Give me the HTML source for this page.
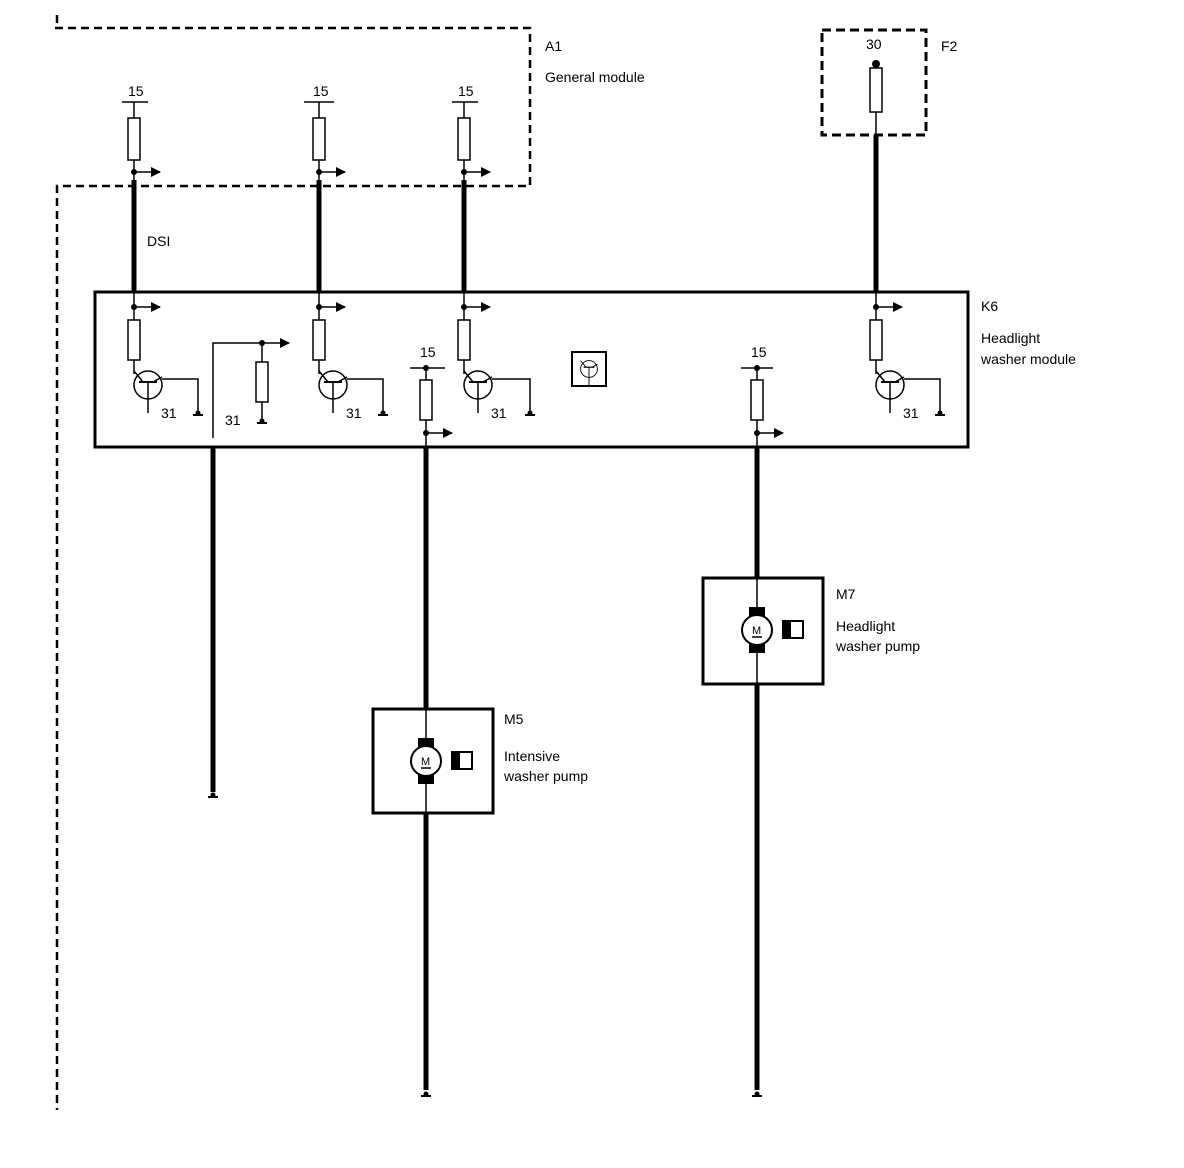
<!DOCTYPE html>
<html><head><style>body{margin:0;background:#fff}svg{display:block}text{font-family:"Liberation Sans",sans-serif;font-size:14px;fill:#000}</style></head><body>
<svg width="1184" height="1168" viewBox="0 0 1184 1168" xmlns="http://www.w3.org/2000/svg">
<defs>
<marker id="ah" markerWidth="10" markerHeight="10" refX="9" refY="5" orient="auto" markerUnits="userSpaceOnUse"><path d="M0,0 L10,5 L0,10z"/></marker>
<g id="tr"><circle cx="0" cy="0" r="14" fill="none" stroke="#000" stroke-width="1.5"/><line x1="-9" y1="-3" x2="9" y2="-3" stroke="#000" stroke-width="2"/><line x1="0" y1="-3" x2="0" y2="28" stroke="#000" stroke-width="1.5"/><line x1="-5" y1="-3" x2="-14" y2="-14" stroke="#000" stroke-width="1.5"/><line x1="5" y1="-3" x2="14" y2="-8" stroke="#000" stroke-width="1.5"/></g>
<g id="gnd"><line x1="-5" y1="0" x2="5" y2="0" stroke="#000" stroke-width="2"/><circle cx="0" cy="-2" r="2.5"/></g>
<g id="mot"><rect x="-8" y="-23" width="16" height="9"/><rect x="-8" y="14" width="16" height="9"/><circle r="15" fill="#fff" stroke="#000" stroke-width="2"/><text x="-5" y="4" style="font-size:11px">M</text><line x1="-5" y1="7" x2="5" y2="7" stroke="#000" stroke-width="1.5"/><rect x="26" y="-9" width="20" height="17" fill="#fff" stroke="#000" stroke-width="2"/><rect x="26" y="-9" width="8" height="17"/></g>
</defs>
<g stroke="#000" fill="none">
<path d="M55,28 H530 V186 H57 V1110 M57,15 V28" stroke-width="2.5" stroke-dasharray="8,5"/>
<rect x="822" y="30" width="104" height="105" stroke-width="3" stroke-dasharray="9,5"/>
<rect x="95" y="292" width="873" height="155" stroke-width="3"/>
<rect x="373" y="709" width="120" height="104" stroke-width="3"/>
<rect x="703" y="578" width="120" height="106" stroke-width="3"/>
<!-- thick wires -->
<g stroke-width="5"><line x1="134" y1="180" x2="134" y2="292"/><line x1="319" y1="180" x2="319" y2="292"/><line x1="464" y1="180" x2="464" y2="292"/><line x1="876" y1="135" x2="876" y2="292"/><line x1="213" y1="447" x2="213" y2="792"/><line x1="426" y1="447" x2="426" y2="709"/><line x1="426" y1="813" x2="426" y2="1090"/><line x1="757" y1="447" x2="757" y2="578"/><line x1="757" y1="684" x2="757" y2="1090"/></g>
<g stroke-width="1.5">
<line x1="426" y1="709" x2="426" y2="813"/><line x1="757" y1="578" x2="757" y2="684"/>
<line x1="876" y1="65" x2="876" y2="135"/>
<!-- A1 columns -->
<line x1="122" y1="102" x2="148" y2="102"/><line x1="134" y1="102" x2="134" y2="180"/>
<line x1="304" y1="102" x2="334" y2="102"/><line x1="319" y1="102" x2="319" y2="180"/>
<line x1="452" y1="102" x2="478" y2="102"/><line x1="464" y1="102" x2="464" y2="180"/>
<line x1="134" y1="172" x2="160" y2="172" marker-end="url(#ah)"/>
<line x1="319" y1="172" x2="345" y2="172" marker-end="url(#ah)"/>
<line x1="464" y1="172" x2="490" y2="172" marker-end="url(#ah)"/>
<!-- K6 inside -->
<line x1="134" y1="292" x2="134" y2="374"/><line x1="319" y1="292" x2="319" y2="374"/><line x1="464" y1="292" x2="464" y2="374"/><line x1="876" y1="292" x2="876" y2="374"/>
<line x1="134" y1="307" x2="160" y2="307" marker-end="url(#ah)"/>
<line x1="319" y1="307" x2="345" y2="307" marker-end="url(#ah)"/>
<line x1="464" y1="307" x2="490" y2="307" marker-end="url(#ah)"/>
<line x1="876" y1="307" x2="902" y2="307" marker-end="url(#ah)"/>
<path d="M162,379 H198 V413"/><path d="M347,379 H383 V413"/><path d="M492,379 H530 V413"/><path d="M904,379 H940 V413"/>
<path d="M213,438 V343 H289" marker-end="url(#ah)"/><line x1="262" y1="343" x2="262" y2="420"/>
<line x1="410" y1="368" x2="445" y2="368"/><line x1="426" y1="368" x2="426" y2="447"/>
<line x1="426" y1="433" x2="452" y2="433" marker-end="url(#ah)"/>
<line x1="741" y1="368" x2="773" y2="368"/><line x1="757" y1="368" x2="757" y2="447"/>
<line x1="757" y1="433" x2="783" y2="433" marker-end="url(#ah)"/>
</g>
<g fill="#fff" stroke-width="1.5">
<rect x="128" y="118" width="12" height="42"/><rect x="313" y="118" width="12" height="42"/><rect x="458" y="118" width="12" height="42"/>
<rect x="870" y="68" width="12" height="44"/>
<rect x="128" y="320" width="12" height="40"/><rect x="313" y="320" width="12" height="40"/><rect x="458" y="320" width="12" height="40"/><rect x="870" y="320" width="12" height="40"/>
<rect x="256" y="362" width="12" height="40"/>
<rect x="420" y="380" width="12" height="40"/><rect x="751" y="380" width="12" height="40"/>
<rect x="572" y="352" width="34" height="34" stroke-width="2"/>
</g>
</g>
<circle cx="876" cy="64" r="4"/>
<g><circle cx="134" cy="172" r="3"/><circle cx="319" cy="172" r="3"/><circle cx="464" cy="172" r="3"/>
<circle cx="134" cy="307" r="3"/><circle cx="319" cy="307" r="3"/><circle cx="464" cy="307" r="3"/><circle cx="876" cy="307" r="3"/>
<circle cx="262" cy="343" r="3"/><circle cx="426" cy="368" r="3"/><circle cx="426" cy="433" r="3"/><circle cx="757" cy="368" r="3"/><circle cx="757" cy="433" r="3"/></g>
<use href="#tr" x="148" y="385"/><use href="#tr" x="333" y="385"/><use href="#tr" x="478" y="385"/><use href="#tr" x="890" y="385"/>
<g transform="translate(589,369) scale(0.6)"><use href="#tr"/></g>
<use href="#gnd" x="198" y="415"/><use href="#gnd" x="383" y="415"/><use href="#gnd" x="530" y="415"/><use href="#gnd" x="940" y="415"/><use href="#gnd" x="262" y="423"/>
<use href="#gnd" x="213" y="797"/><use href="#gnd" x="426" y="1096"/><use href="#gnd" x="757" y="1096"/>
<use href="#mot" x="426" y="761"/><use href="#mot" x="757" y="630"/>
<text x="128" y="96">15</text><text x="313" y="96">15</text><text x="458" y="96">15</text><text x="866" y="49">30</text>
<text x="545" y="51">A1</text><text x="545" y="82">General module</text><text x="941" y="51">F2</text>
<text x="147" y="246">DSI</text>
<text x="981" y="311">K6</text><text x="981" y="343">Headlight</text><text x="981" y="364">washer module</text>
<text x="161" y="418">31</text><text x="225" y="425">31</text><text x="346" y="418">31</text><text x="491" y="418">31</text><text x="903" y="418">31</text>
<text x="420" y="357">15</text><text x="751" y="357">15</text>
<text x="504" y="724">M5</text><text x="504" y="761">Intensive</text><text x="504" y="781">washer pump</text>
<text x="836" y="599">M7</text><text x="836" y="631">Headlight</text><text x="836" y="651">washer pump</text>
</svg>
</body></html>
